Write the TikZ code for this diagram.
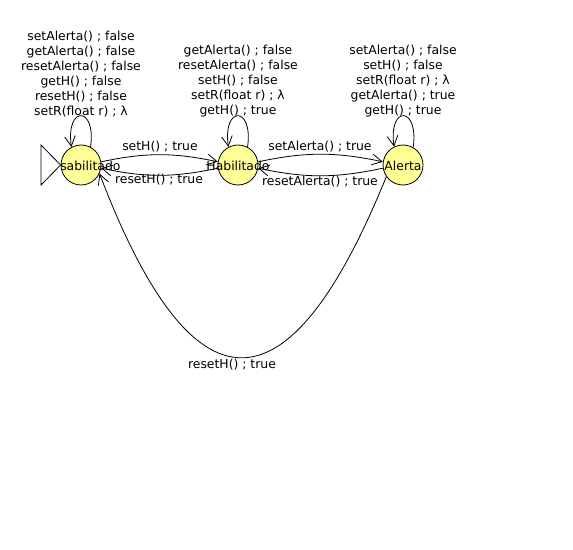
\documentclass[tikz,border=0pt]{standalone}
\usepackage{fontspec}
\setmainfont{DejaVu Sans}
\usetikzlibrary{arrows.meta}
\definecolor{stfill}{RGB}{255,255,150}
\begin{document}
\begin{tikzpicture}[x=0.75pt,y=0.75pt,
  every node/.style={font=\fontsize{9.3}{11.25}\selectfont},
  state/.style={circle,draw,fill=stfill,minimum size=30pt,inner sep=0pt,line width=0.6pt},
  edge/.style={draw,line width=0.6pt,-{Straight Barb[length=7.5pt,width=8pt,line width=0.6pt]}},
  lbl/.style={inner sep=0pt,align=center},
  loopl/.style={lbl,anchor=south}]
\useasboundingbox (0,0) rectangle (573,-549);
\node[state] (q0) at (81,-165) {};
\node[state] (q1) at (238,-165) {};
\node[state] (q2) at (403,-165) {};
\coordinate (t1) at (41,-145);
\coordinate (t2) at (41,-185);
\filldraw[fill=white,line width=0.6pt] (t1) -- (q0.west) -- (t2) -- cycle;
\node[lbl,anchor=west] (n0) at (60,-166) {sabilitado};
\node[lbl] (n1) at (238,-166) {Habilitado};
\node[lbl] (n2) at (403,-166) {Alerta};
% loops
\path[edge] (q0.62) .. controls +(82:42) and +(98:42) .. (q0.118);
\path[edge] (q1.62) .. controls +(82:42) and +(98:42) .. (q1.118);
\path[edge] (q2.60) .. controls +(82:42) and +(98:42) .. (q2.116);
\node[loopl] (l0) at (81,-117) {setAlerta() ; false\\getAlerta() ; false\\resetAlerta() ; false\\getH() ; false\\resetH() ; false\\setR(float r) ; λ};
\node[loopl] (l1) at (238,-117) {getAlerta() ; false\\resetAlerta() ; false\\setH() ; false\\setR(float r) ; λ\\getH() ; true};
\node[loopl] (l2) at (403,-117) {setAlerta() ; false\\setH() ; false\\setR(float r) ; λ\\getAlerta() ; true\\getH() ; true};
% transitions
\path[edge] (q0.9) to[bend left=12] (q1.171);
\path[edge] (q1.189) to[bend left=12] (q0.351);
\path[edge] (q1.9) to[bend left=12] (q2.171);
\path[edge] (q2.189) to[bend left=12] (q1.351);
\path[edge] (q2.215) .. controls (288,-419) and (193,-418) .. (q0.335);
\node[lbl] (e1) at (160,-147) {setH() ; true};
\node[lbl] (e2) at (159,-180) {resetH() ; true};
\node[lbl] (e3) at (320,-147) {setAlerta() ; true};
\node[lbl] (e4) at (320,-182) {resetAlerta() ; true};
\node[lbl] (e5) at (232,-365) {resetH() ; true};
\end{tikzpicture}
\end{document}
